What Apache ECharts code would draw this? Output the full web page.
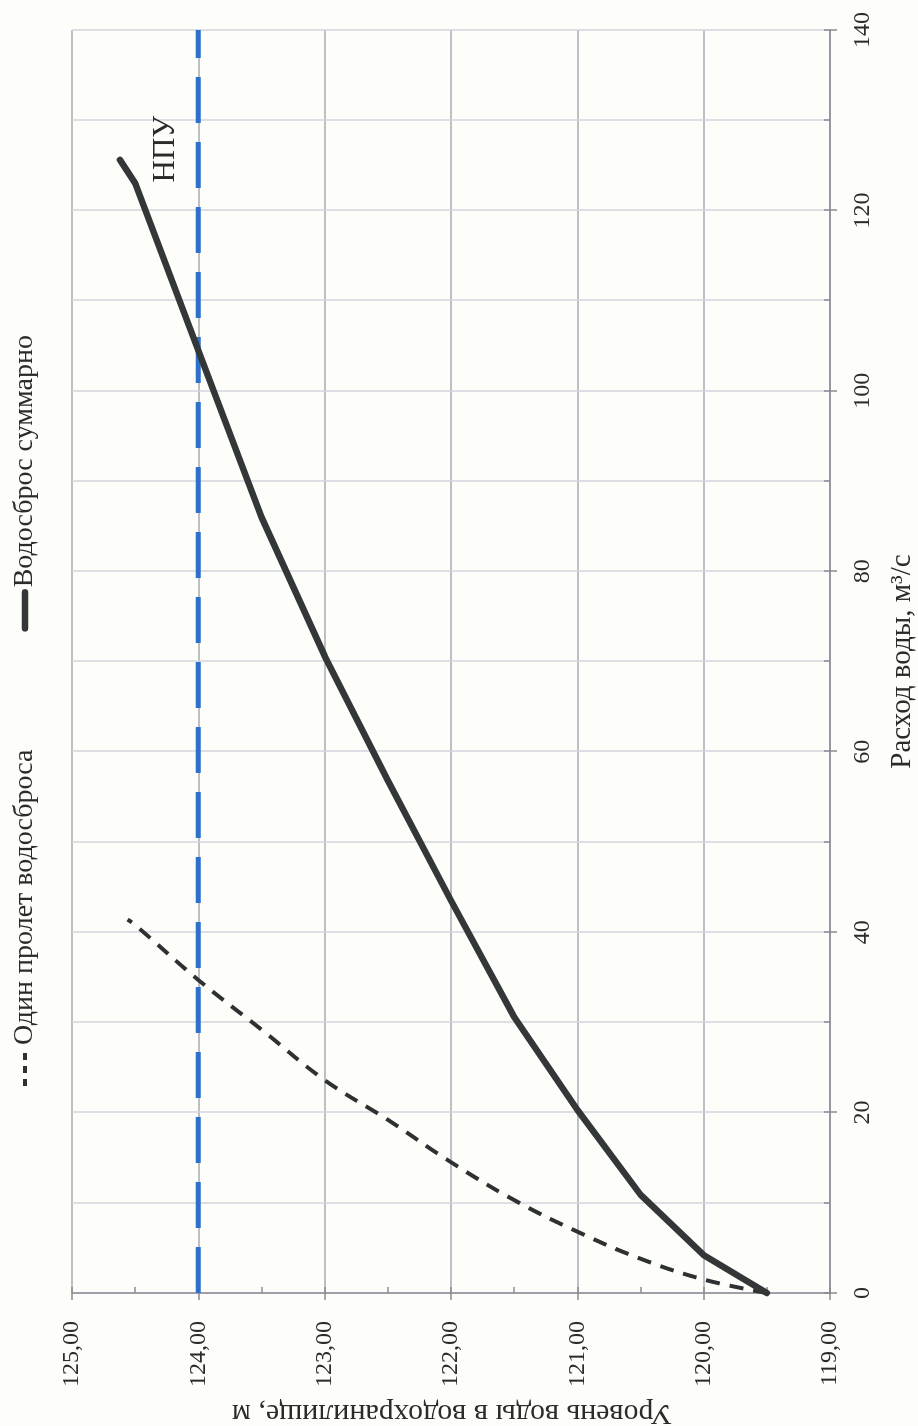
<!DOCTYPE html>
<html>
<head>
<meta charset="utf-8">
<script src="https://cdn.jsdelivr.net/npm/echarts@6/dist/echarts.min.js"></script>
<style>
html,body{margin:0;padding:0;width:918px;height:1426px;overflow:hidden;background:#fdfdfa;}
#chart{position:absolute;left:0;top:0;width:1426px;height:918px;transform-origin:0 0;transform:translate(0,1426px) rotate(-90deg);}
</style>
</head>
<body>
<div id="chart"></div>
<script>
// Data (flow in m3/s, reservoir level in m)
const singleName = 'Один пролет водосброса';
const totalName = 'Водосброс суммарно';
const flowSingle  = [0, 1.5, 3.8, 6.8, 10.3, 14.5, 19.2, 23.6, 29.2, 34.7, 40.8, 41.4];
const levelSingle = [119.5, 120.0, 120.5, 121.0, 121.5, 122.0, 122.5, 123.0, 123.5, 124.0, 124.5, 124.56];
const flowTotal   = [0, 4.2, 10.9, 20.3, 30.6, 43.5, 56.8, 70.6, 86.0, 104.5, 123.0, 125.6];
const levelTotal  = [119.5, 120.0, 120.5, 121.0, 121.5, 122.0, 122.5, 123.0, 123.5, 124.0, 124.5, 124.62];
const npuFlows  = [0, 140];
const npuLevel  = 124.0;
const npuLabel  = 'НПУ';
const npuLabelFlow = 126.8;
const flowTitle  = 'Расход воды, м³/с';
const levelTitle = 'Уровень воды в водохранилище, м';

const FONT = '"Liberation Serif","Times New Roman",serif';
const TXT = '#2b2b2b';
const AXIS = '#8a8a92';

function pairs(xs, ys) { return xs.map((x, i) => [x, ys[i]]); }

const chart = echarts.init(document.getElementById('chart'), null, {renderer: 'canvas'});
chart.setOption({
  backgroundColor: '#fdfdfa',
  animation: false,
  textStyle: {fontFamily: FONT, color: TXT},
  legend: {
    data: [
      {name: singleName, lineStyle: {type: [7, 6], width: 4}},
      {name: totalName, lineStyle: {width: 6.5}}
    ],
    left: 333, top: 6,
    itemWidth: 36, itemHeight: 14, itemGap: 118,
    itemStyle: {opacity: 0},
    textStyle: {fontSize: 28, fontFamily: FONT, color: TXT}
  },
  grid: {left: 133, right: 30, top: 72, bottom: 88, outerBoundsMode: 'none'},
  graphic: [{
    type: 'text', x: 13, y: 452, rotation: Math.PI / 2, silent: true,
    style: {text: levelTitle, fontSize: 30, fontFamily: FONT, fill: TXT,
      textAlign: 'center', textVerticalAlign: 'middle', verticalAlign: 'middle'}
  }],
  xAxis: [
    {
      type: 'value', min: 0, max: 140, interval: 20, position: 'bottom',
      name: flowTitle, nameLocation: 'middle', nameGap: 58, nameMoveOverlap: false,
      nameTextStyle: {fontSize: 29, fontFamily: FONT, color: TXT},
      axisLine: {show: true, onZero: false, lineStyle: {color: AXIS, width: 1.5}},
      axisTick: {show: true, length: 7, lineStyle: {color: AXIS, width: 1.5}},
      axisLabel: {margin: 21, fontSize: 24, fontFamily: FONT, color: TXT},
      splitLine: {show: false}
    },
    {
      type: 'value', min: 0, max: 140, interval: 10, position: 'bottom',
      axisLine: {show: false, onZero: false},
      axisTick: {show: true, inside: true, length: 6, lineStyle: {color: AXIS, width: 1.5}},
      axisLabel: {show: false},
      splitLine: {show: true, lineStyle: {color: '#d3d3de', width: 1.5}}
    }
  ],
  yAxis: [
    {
      type: 'value', min: 119, max: 125, interval: 1, position: 'left',
      axisLine: {show: true, onZero: false, lineStyle: {color: AXIS, width: 1.5}},
      axisTick: {show: true, length: 7, lineStyle: {color: AXIS, width: 1.5}},
      axisLabel: {margin: 28, fontSize: 24, fontFamily: FONT, color: TXT,
        formatter: v => v.toFixed(2).replace('.', ',')},
      splitLine: {show: true, lineStyle: {color: '#a9a9b3', width: 1.5}}
    },
    {
      type: 'value', min: 119, max: 125, interval: 0.5, position: 'left',
      axisLine: {show: false, onZero: false},
      axisTick: {show: true, inside: true, length: 6, lineStyle: {color: AXIS, width: 1.5}},
      axisLabel: {show: false},
      splitLine: {show: false}
    }
  ],
  series: [
    {
      name: 'НПУ', type: 'line', xAxisIndex: 0, yAxisIndex: 0,
      data: npuFlows.map(f => [f, npuLevel]),
      symbol: 'none', silent: true,
      color: '#2e6fcc',
      lineStyle: {color: '#2e6fcc', width: 5, type: [46, 19]},
      markPoint: {
        symbol: 'circle', symbolSize: 0, silent: true,
        data: [{coord: [npuLabelFlow, npuLevel], value: npuLabel}],
        label: {show: true, formatter: npuLabel, position: 'top', distance: 17,
          fontSize: 31, fontFamily: FONT, color: TXT}
      }
    },
    {
      name: singleName, type: 'line', xAxisIndex: 0, yAxisIndex: 0,
      data: pairs(flowSingle, levelSingle),
      smooth: 0.4, symbol: 'none',
      color: '#2d3131',
      lineStyle: {color: '#2d3131', width: 4, type: [14, 10]}
    },
    {
      name: totalName, type: 'line', xAxisIndex: 0, yAxisIndex: 0,
      data: pairs(flowTotal, levelTotal),
      symbol: 'none',
      color: '#333737',
      lineStyle: {color: '#333737', width: 6.5, cap: 'round', join: 'round'}
    }
  ]
});
</script>
</body>
</html>
